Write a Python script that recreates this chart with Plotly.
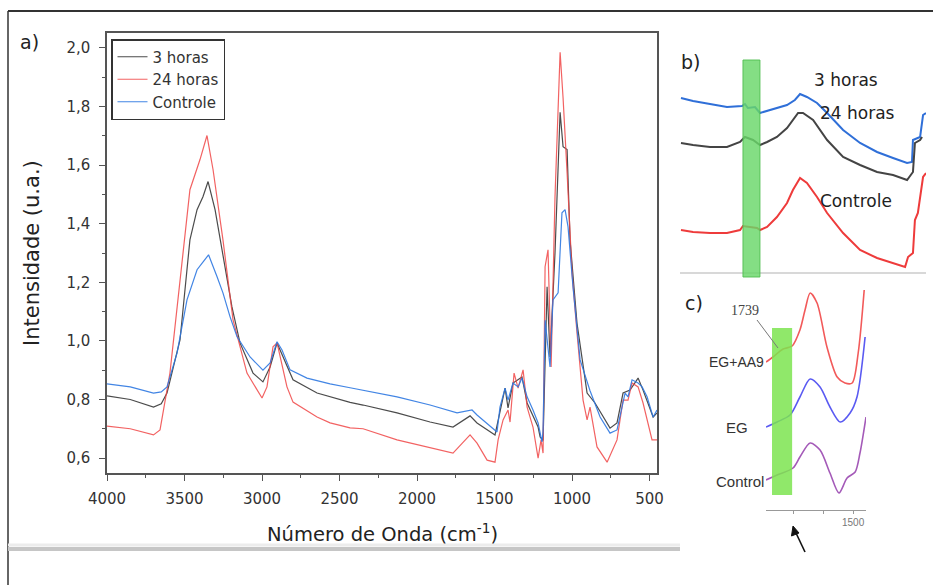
import plotly.graph_objects as go

# ---------------- Panel a) data ----------------
wn_3h = [4000, 3850, 3700, 3650, 3613, 3529, 3465, 3419, 3381, 3348, 3303, 3252, 3194, 3142, 3058, 2994,
         2948, 2903, 2865, 2800, 2645, 2432, 2348, 2129, 1916, 1768, 1658, 1613, 1497, 1465, 1432, 1413,
         1381, 1323, 1290, 1219, 1206, 1187, 1161, 1142, 1110, 1077, 1058, 1032, 1013, 968, 903, 852,
         755, 710, 671, 626, 574, 542, 477, 452]
int_3h = [0.812, 0.800, 0.774, 0.785, 0.822, 1.003, 1.345, 1.448, 1.492, 1.544, 1.448, 1.287, 1.116, 0.993, 0.890, 0.860,
          0.911, 0.993, 0.945, 0.867, 0.822, 0.790, 0.781, 0.754, 0.723, 0.706, 0.744, 0.720, 0.679, 0.754, 0.839, 0.771,
          0.856, 0.877, 0.788, 0.706, 0.672, 0.660, 1.185, 0.945, 1.300, 1.780, 1.663, 1.653, 1.345, 1.060, 0.822, 0.788,
          0.702, 0.720, 0.822, 0.832, 0.873, 0.832, 0.740, 0.754]

wn_24h = [4000, 3850, 3700, 3658, 3594, 3529, 3465, 3400, 3355, 3316, 3252, 3187, 3097, 3000, 2968, 2929,
          2903, 2839, 2800, 2645, 2561, 2432, 2348, 2129, 1916, 1768, 1658, 1613, 1548, 1497, 1477, 1445,
          1413, 1400, 1374, 1348, 1316, 1290, 1252, 1219, 1200, 1187, 1174, 1155, 1135, 1110, 1077, 1058,
          1032, 1000, 968, 929, 903, 884, 839, 774, 710, 671, 639, 613, 574, 542, 484, 452]
int_24h = [0.709, 0.700, 0.679, 0.696, 0.890, 1.198, 1.516, 1.619, 1.701, 1.585, 1.345, 1.072, 0.890, 0.805, 0.843, 0.980,
           0.993, 0.843, 0.791, 0.740, 0.720, 0.703, 0.700, 0.662, 0.634, 0.617, 0.679, 0.651, 0.593, 0.586, 0.662, 0.730,
           0.764, 0.723, 0.890, 0.839, 0.901, 0.774, 0.706, 0.600, 0.662, 0.617, 1.253, 1.311, 0.911, 1.492, 1.985, 1.830,
           1.574, 1.232, 1.027, 0.798, 0.730, 0.774, 0.638, 0.586, 0.662, 0.798, 0.798, 0.856, 0.843, 0.788, 0.662, 0.662]

wn_ctrl = [4000, 3850, 3700, 3650, 3613, 3548, 3484, 3419, 3380, 3345, 3290, 3252, 3206, 3161, 3077, 2994,
           2948, 2903, 2871, 2819, 2710, 2561, 2432, 2348, 2129, 1916, 1742, 1645, 1613, 1484, 1465, 1432,
           1413, 1381, 1348, 1323, 1290, 1252, 1219, 1194, 1187, 1174, 1142, 1123, 1090, 1065, 1045, 1026,
           994, 948, 903, 884, 819, 755, 710, 677, 658, 639, 613, 574, 548, 516, 477, 452]
int_ctrl = [0.853, 0.843, 0.822, 0.826, 0.843, 0.959, 1.140, 1.243, 1.270, 1.294, 1.219, 1.164, 1.082, 1.014, 0.945, 0.900,
            0.925, 0.997, 0.969, 0.901, 0.873, 0.853, 0.840, 0.832, 0.809, 0.781, 0.754, 0.764, 0.747, 0.689, 0.774, 0.839,
            0.798, 0.856, 0.843, 0.873, 0.809, 0.764, 0.720, 0.655, 0.690, 1.070, 0.911, 1.140, 1.164, 1.437, 1.448, 1.390,
            1.185, 0.935, 0.856, 0.830, 0.740, 0.685, 0.696, 0.774, 0.822, 0.809, 0.867, 0.856, 0.843, 0.809, 0.740, 0.764]

series_names = ["3 horas", "24 horas", "Controle"]
x_ticks = [4000, 3500, 3000, 2500, 2000, 1500, 1000, 500]
y_ticks = [0.6, 0.8, 1.0, 1.2, 1.4, 1.6, 1.8, 2.0]
y_ticktext = ["0,6", "0,8", "1,0", "1,2", "1,4", "1,6", "1,8", "2,0"]

# ---------------- Panel b) data (arbitrary units) ----------------
b_x_blue = [0.4, 5.3, 12.2, 19.1, 25.2, 26.4, 27.6, 30.5, 32.5, 35.4, 39.4, 43.5, 46.7, 48.8, 51.6, 55.7,
            59.8, 66.3, 73.2, 80.1, 86.6, 92.3, 94.3, 94.7, 97.6, 98.8, 100]
b_y_blue = [1.82, 1.79, 1.76, 1.73, 1.74, 1.76, 1.72, 1.73, 1.67, 1.69, 1.72, 1.75, 1.80, 1.86, 1.83, 1.77,
            1.67, 1.50, 1.37, 1.28, 1.22, 1.17, 1.18, 1.40, 1.43, 1.65, 1.67]
b_x_gray = [0.4, 5.3, 12.2, 19.1, 24.4, 26.4, 29.7, 32.5, 35.4, 39.4, 43.5, 45.9, 48.0, 50.0, 54.1, 59.8,
            66.3, 73.2, 80.1, 86.6, 92.3, 94.7, 95.5, 97.6, 98.4]
b_y_gray = [1.37, 1.35, 1.33, 1.33, 1.38, 1.43, 1.40, 1.35, 1.38, 1.43, 1.52, 1.60, 1.67, 1.67, 1.60, 1.40,
            1.23, 1.15, 1.08, 1.05, 1.00, 1.08, 1.37, 1.40, 1.43]
b_x_red = [0.4, 5.3, 12.2, 19.1, 24.4, 25.6, 31.3, 32.5, 35.4, 39.4, 43.5, 45.9, 48.8, 51.6, 55.7, 59.8,
           66.3, 73.2, 80.1, 86.6, 91.5, 92.7, 94.7, 95.5, 96.7, 98.8, 100]
b_y_red = [0.50, 0.48, 0.47, 0.47, 0.50, 0.54, 0.52, 0.50, 0.53, 0.63, 0.77, 0.90, 1.02, 0.97, 0.83, 0.67,
           0.47, 0.30, 0.22, 0.17, 0.13, 0.23, 0.27, 0.60, 0.67, 1.03, 1.07]
b_labels = ["3 horas", "24 horas", "Controle"]

# ---------------- Panel c) data ----------------
c_x_red = [1790, 1767, 1733, 1703, 1677, 1660, 1643, 1620, 1587, 1553, 1527, 1503, 1483, 1463]
c_y_red = [1.48, 1.53, 1.61, 1.64, 1.80, 2.00, 2.17, 2.07, 1.63, 1.33, 1.27, 1.27, 1.57, 2.20]
c_x_blue = [1790, 1753, 1710, 1677, 1643, 1610, 1577, 1543, 1510, 1487, 1460]
c_y_blue = [0.83, 0.88, 0.95, 1.13, 1.31, 1.23, 1.03, 0.88, 0.97, 1.13, 1.73]
c_x_purple = [1790, 1753, 1700, 1677, 1643, 1610, 1577, 1547, 1520, 1493, 1477, 1457]
c_y_purple = [0.30, 0.35, 0.42, 0.53, 0.67, 0.60, 0.37, 0.17, 0.32, 0.38, 0.57, 0.93]
c_labels = ["EG+AA9", "EG", "Control"]

W, H = 933, 585
def PX(x):
    return x / W
def PY(y):
    return 1 - y / H

FONT = "DejaVu Sans, Verdana, sans-serif"
FONT2 = "Liberation Sans, Arial, sans-serif"
fig = go.Figure()

main_colors = ["rgba(55,55,55,0.9)", "rgba(240,70,70,0.85)", "rgba(45,120,225,0.9)"]
for name, xs, ys, col in zip(series_names, [wn_3h, wn_24h, wn_ctrl], [int_3h, int_24h, int_ctrl], main_colors):
    fig.add_trace(go.Scatter(x=xs, y=ys, mode="lines", name=name,
                             line=dict(color=col, width=1.2), xaxis="x", yaxis="y"))

b_colors = ["#2f6fd8", "#444444", "#ee3b3b"]
for xs, ys, col in zip([b_x_blue, b_x_gray, b_x_red], [b_y_blue, b_y_gray, b_y_red], b_colors):
    fig.add_trace(go.Scatter(x=xs, y=ys, mode="lines", showlegend=False,
                             line=dict(color=col, width=2), xaxis="x2", yaxis="y2"))

c_colors = ["#f25a5a", "#5a5af2", "#a45ab8"]
for xs, ys, col in zip([c_x_red, c_x_blue, c_x_purple], [c_y_red, c_y_blue, c_y_purple], c_colors):
    fig.add_trace(go.Scatter(x=xs, y=ys, mode="lines", showlegend=False,
                             line=dict(color=col, width=1.6, shape="spline", smoothing=0.8),
                             xaxis="x3", yaxis="y3"))

axis_common = dict(showgrid=False, zeroline=False, showline=True, mirror=True, automargin=False,
                   linecolor="#555", linewidth=1.5, ticks="outside", ticklen=6,
                   tickcolor="#555", tickwidth=1, tickfont=dict(family=FONT, size=15, color="#333"))

fig.update_layout(
    width=W, height=H, margin=dict(l=0, r=0, t=0, b=0, autoexpand=False),
    paper_bgcolor="white", plot_bgcolor="white",
    font=dict(family=FONT, color="#333"),
    xaxis=dict(domain=[PX(107), PX(657)], range=[4000, 452], tickvals=x_ticks,
               minor=dict(dtick=250, tick0=0, ticks="outside", ticklen=3, tickcolor="#555"),
               ticklabelstandoff=5, anchor="y", **axis_common),
    yaxis=dict(domain=[PY(473), PY(33)], range=[0.549, 2.051], tickvals=y_ticks, ticktext=y_ticktext,
               minor=dict(dtick=0.1, tick0=0, ticks="outside", ticklen=3, tickcolor="#555"),
               ticklabelstandoff=6, anchor="x", **axis_common),
    xaxis2=dict(domain=[PX(680), PX(926)], range=[0, 100], visible=False, anchor="y2", automargin=False),
    yaxis2=dict(domain=[PY(280), PY(55)], range=[0, 2.25], visible=False, anchor="x2", automargin=False),
    xaxis3=dict(domain=[PX(766), PX(866)], range=[1790, 1457], anchor="y3", showgrid=False, zeroline=False,
                automargin=False, showline=True, linecolor="#999", linewidth=1, ticks="outside", ticklen=3,
                tickcolor="#999", tickvals=[1500],
                minor=dict(tickvals=[1700, 1600], ticks="outside", ticklen=3, tickcolor="#999"),
                tickfont=dict(family=FONT2, size=10, color="#777")),
    yaxis3=dict(domain=[PY(510), PY(285)], range=[0, 2.25], visible=False, anchor="x3", automargin=False),
    legend=dict(x=PX(111), y=PY(39), xanchor="left", yanchor="top", bgcolor="white",
                bordercolor="#333", borderwidth=1.5, font=dict(family=FONT, size=15, color="#333"),
                tracegroupgap=0, itemwidth=30),
    showlegend=True,
)

shapes = [
    dict(type="line", xref="paper", yref="paper", x0=PX(8), x1=1, y0=PY(11), y1=PY(11),
         line=dict(color="#333", width=2)),
    dict(type="line", xref="paper", yref="paper", x0=PX(8), x1=PX(8), y0=PY(11), y1=0,
         line=dict(color="#333", width=1.5)),
    dict(type="line", xref="paper", yref="paper", x0=PX(8), x1=PX(680), y0=PY(549), y1=PY(549),
         line=dict(color="#c6c6c6", width=4)),
    dict(type="line", xref="paper", yref="paper", x0=PX(8), x1=PX(680), y0=PY(545), y1=PY(545),
         line=dict(color="#ececec", width=3)),
    # panel b baseline
    dict(type="line", xref="x2", yref="y2", x0=0, x1=100, y0=0.07, y1=0.07,
         line=dict(color="#d8d8d8", width=2)),
    # panel b green band
    dict(type="rect", xref="x2", yref="y2", x0=25.6, x1=32.5, y0=0.03, y1=2.20,
         fillcolor="rgba(105,215,105,0.82)", line=dict(color="rgba(80,190,80,0.9)", width=1), layer="above"),
    # panel c green band
    dict(type="rect", xref="x3", yref="y3", x0=1770, x1=1703, y0=0.15, y1=1.82,
         fillcolor="rgba(125,228,80,0.85)", line=dict(width=0), layer="above"),
    # panel c leader line for 1739
    dict(type="line", xref="paper", yref="paper", x0=PX(757), x1=PX(778), y0=PY(320), y1=PY(348),
         line=dict(color="#777", width=1)),
    # arrow below panel c
    dict(type="line", xref="paper", yref="paper", x0=PX(805), x1=PX(796), y0=PY(552), y1=PY(533),
         line=dict(color="#111", width=1.6)),
    dict(type="path", xref="paper", yref="paper",
         path=f"M {PX(793)},{PY(526)} L {PX(791.5)},{PY(536)} L {PX(799)},{PY(533)} Z",
         fillcolor="#111", line=dict(color="#111", width=1)),
]
fig.update_layout(shapes=shapes)

ann = [
    dict(text="a)", x=PX(18), y=PY(42), xanchor="left", yanchor="middle", font=dict(size=19, color="#222")),
    dict(text="Intensidade (u.a.)", x=PX(32), y=PY(253), textangle=-90, xanchor="center", yanchor="middle",
         font=dict(size=21, color="#222")),
    dict(text="Número de Onda (cm<sup>-1</sup>)", x=PX(382), y=PY(533), xanchor="center", yanchor="middle",
         font=dict(size=19.5, color="#222")),
    dict(text="b)", x=PX(679), y=PY(62), xanchor="left", yanchor="middle", font=dict(size=19, color="#222")),
    dict(text=b_labels[0], x=PX(812), y=PY(80), xanchor="left", yanchor="middle", font=dict(size=17, color="#222")),
    dict(text=b_labels[1], x=PX(818), y=PY(113), xanchor="left", yanchor="middle", font=dict(size=17, color="#222")),
    dict(text=b_labels[2], x=PX(818), y=PY(201), xanchor="left", yanchor="middle", font=dict(size=17, color="#222")),
    dict(text="c)", x=PX(683), y=PY(303), xanchor="left", yanchor="middle", font=dict(size=19, color="#222")),
    dict(text="1739", x=PX(745), y=PY(310), xanchor="center", yanchor="middle",
         font=dict(size=14, color="#444", family="Liberation Serif, DejaVu Serif, serif")),
    dict(text=c_labels[0], x=PX(766), y=PY(362), xanchor="right", yanchor="middle",
         font=dict(size=14, color="#333", family=FONT2)),
    dict(text=c_labels[1], x=PX(750), y=PY(427), xanchor="right", yanchor="middle",
         font=dict(size=15, color="#333", family=FONT2)),
    dict(text=c_labels[2], x=PX(766), y=PY(481), xanchor="right", yanchor="middle",
         font=dict(size=15, color="#333", family=FONT2)),
]
for a in ann:
    a.setdefault("xref", "paper")
    a.setdefault("yref", "paper")
    a.setdefault("showarrow", False)
fig.update_layout(annotations=ann)

fig.write_html("out.html")
